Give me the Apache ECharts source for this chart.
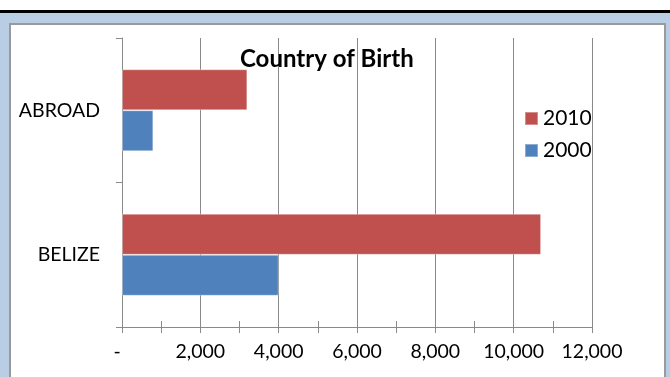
<!DOCTYPE html>
<html>
<head>
<meta charset="utf-8">
<script src="https://cdn.jsdelivr.net/npm/echarts@6/dist/echarts.min.js"></script>
<style>
  html, body { margin: 0; padding: 0; background: #ffffff; }
  #stage { position: relative; width: 670px; height: 377px; overflow: hidden; background: #ffffff; }
  #band { position: absolute; left: 0; top: 10px; width: 670px; height: 3px; background: #000000; }
  #frame { position: absolute; left: 0; top: 13px; width: 670px; height: 364px; background: #b9cde5; }
  #panel { position: absolute; left: 9px; top: 23px; width: 653px; height: 380px; background: #ffffff;
           border: 2px solid #9a9a9a; }
  #chart { position: absolute; left: 0; top: 0; width: 670px; height: 377px; }
</style>
</head>
<body>
<div id="stage">
  <div id="band"></div>
  <div id="frame"></div>
  <div id="panel"></div>
  <div id="chart"></div>
</div>
<script>
// Country of birth, counts by census year
const categories = ['BELIZE', 'ABROAD'];
const values2000 = [4000, 800];
const values2010 = [10700, 3200];
const legendOrder = ['2010', '2000'];
const xMin = 0;
const xMax = 12000;
const xStep = 2000;

const FONT = 'Lato';
const gridColor = '#8a8a8a';

function fmtTick(v) {
  if (v === 0) return '{dash|-}';
  return v.toLocaleString('en-US');
}

const chart = echarts.init(document.getElementById('chart'), null, { renderer: 'canvas' });

const baseX = {
  type: 'value',
  min: xMin,
  max: xMax,
  interval: xStep,
  position: 'bottom'
};

chart.setOption({
  backgroundColor: 'transparent',
  animation: false,
  textStyle: { fontFamily: FONT },
  title: {
    text: 'Country of Birth',
    left: 235,
    top: 42,
    textStyle: { fontFamily: FONT, fontSize: 24, fontWeight: 'bold', color: '#000000' }
  },
  legend: {
    data: legendOrder,
    orient: 'vertical',
    left: 519,
    top: 103,
    itemWidth: 13,
    itemHeight: 13,
    itemGap: 11,
    icon: 'rect',
    textStyle: { fontFamily: FONT, fontSize: 21, lineHeight: 20, color: '#000000' }
  },
  grid: { left: 122, right: 78, top: 38, bottom: 50, containLabel: false },
  xAxis: [
    Object.assign({}, baseX, {
      axisLine: { show: true, lineStyle: { color: gridColor, width: 1 } },
      axisTick: { show: true, inside: false, length: 6, lineStyle: { color: gridColor } },
      minorTick: { show: true, splitNumber: 2, length: 6, lineStyle: { color: gridColor } },
      splitLine: { show: true, lineStyle: { color: gridColor, width: 1 } },
      axisLabel: {
        margin: 15,
        fontFamily: FONT,
        fontSize: 19.5,
        color: '#000000',
        formatter: fmtTick,
        rich: { dash: { fontFamily: FONT, fontSize: 19.5, color: '#000000', padding: [0, 10, 0, 0] } }
      }
    }),
    Object.assign({}, baseX, {
      axisLine: { show: false },
      axisTick: { show: true, inside: true, length: 6, lineStyle: { color: gridColor } },
      minorTick: { show: true, splitNumber: 2, length: 6, lineStyle: { color: gridColor } },
      splitLine: { show: false },
      axisLabel: { show: false }
    })
  ],
  yAxis: {
    type: 'category',
    data: categories,
    axisLine: { show: true, lineStyle: { color: gridColor, width: 1 } },
    axisTick: { show: true, alignWithLabel: false, length: 6, lineStyle: { color: gridColor } },
    axisLabel: { margin: 22, fontFamily: FONT, fontSize: 19.5, color: '#000000' },
    splitLine: { show: false }
  },
  series: [
    {
      name: '2010',
      type: 'bar',
      xAxisIndex: 0,
      data: values2010,
      barWidth: 41,
      barGap: '0%',
      itemStyle: { color: '#c0504d', borderColor: 'rgba(255,255,255,0.35)', borderWidth: 1 }
    },
    {
      name: '2000',
      type: 'bar',
      xAxisIndex: 0,
      data: values2000,
      barWidth: 41,
      barGap: '0%',
      itemStyle: { color: '#4f81bd', borderColor: 'rgba(255,255,255,0.35)', borderWidth: 1 }
    }
  ]
});
</script>
</body>
</html>
